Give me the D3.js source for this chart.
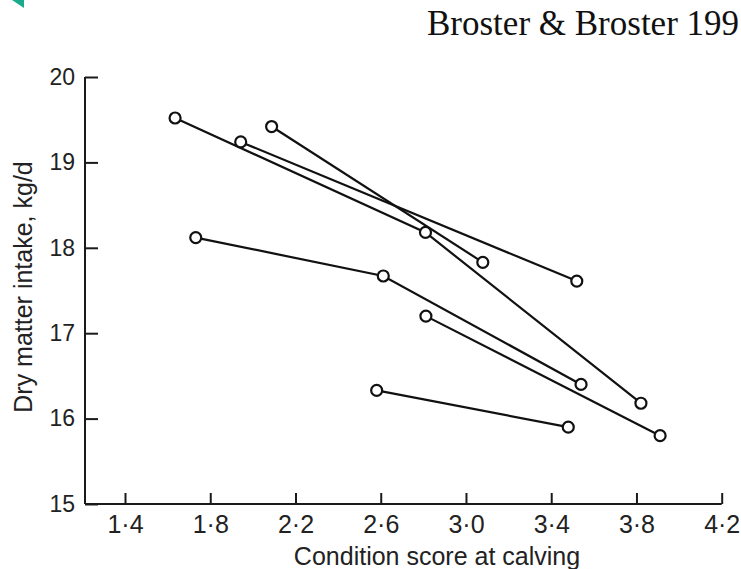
<!DOCTYPE html>
<html>
<head>
<meta charset="utf-8">
<script src="https://cdn.jsdelivr.net/npm/d3@7"></script>
<style>
  body { margin: 0; background: #fff; }
  svg { display: block; }
  .tick text { font-family: "Liberation Sans", Arial, sans-serif; fill: #222; }
</style>
</head>
<body>
<div id="chart"></div>
<script>
// one line per experiment: condition score at calving vs dry matter intake
var seriesNames = ["A", "B", "C", "D", "E", "F"];
var scoreA = [1.635, 2.81, 3.821], intakeA = [19.52, 18.18, 16.18];
var scoreB = [2.088, 3.079],       intakeB = [19.42, 17.83];
var scoreC = [1.943, 3.52],        intakeC = [19.24, 17.61];
var scoreD = [1.732, 2.612, 3.54], intakeD = [18.12, 17.67, 16.40];
var scoreE = [2.812, 3.911],       intakeE = [17.20, 15.80];
var scoreF = [2.581, 3.48],        intakeF = [16.33, 15.90];

var xTicks = [1.4, 1.8, 2.2, 2.6, 3.0, 3.4, 3.8, 4.2];
var yTicks = [15, 16, 17, 18, 19, 20];

var scores = [scoreA, scoreB, scoreC, scoreD, scoreE, scoreF];
var intakes = [intakeA, intakeB, intakeC, intakeD, intakeE, intakeF];

var width = 741, height = 569;

var svg = d3.select("#chart").append("svg")
  .attr("width", width)
  .attr("height", height);

// small green corner mark
svg.append("path")
  .attr("d", "M12,0 L24,0 L24,8 Z")
  .attr("fill", "#1aaa8c");

svg.append("text")
  .attr("x", 427)
  .attr("y", 35)
  .style("font-family", "'Liberation Serif', 'Times New Roman', serif")
  .style("font-size", "35px")
  .attr("fill", "#111")
  .text("Broster & Broster 199");

var x = d3.scaleLinear().domain([1.4, 4.2]).range([125, 721.7]);
var y = d3.scaleLinear().domain([15, 20]).range([504, 77]);
var xLeft = x.invert(85);

// x axis, ticks pointing up
var xAxis = d3.axisTop(x)
  .tickValues(xTicks)
  .tickSize(11)
  .tickSizeOuter(0)
  .tickFormat(function(d) { return d3.format(".1f")(d).replace(".", "\u00b7"); });

var gx = svg.append("g")
  .attr("transform", "translate(0," + y(15) + ")")
  .call(xAxis);
gx.select(".domain").remove();
gx.append("line")
  .attr("x1", x(xLeft)).attr("x2", x(4.2))
  .attr("stroke", "#1a1a1a").attr("stroke-width", 2);
gx.selectAll(".tick line").attr("stroke", "#1a1a1a").attr("stroke-width", 2);
gx.selectAll(".tick text")
  .attr("y", 29)
  .style("font-size", "25px");

// y axis, ticks pointing right
var yAxis = d3.axisRight(y)
  .tickValues(yTicks)
  .tickSize(13)
  .tickSizeOuter(0)
  .tickFormat(d3.format("d"));

var gy = svg.append("g")
  .attr("transform", "translate(" + x(xLeft) + ",0)")
  .call(yAxis);
gy.select(".domain").remove();
gy.append("line")
  .attr("y1", y(15)).attr("y2", y(20))
  .attr("stroke", "#1a1a1a").attr("stroke-width", 2);
gy.selectAll(".tick line").attr("stroke", "#1a1a1a").attr("stroke-width", 2);
gy.selectAll(".tick text")
  .attr("x", -10)
  .attr("text-anchor", "end")
  .style("font-size", "23px");

svg.append("text")
  .attr("x", 437)
  .attr("y", 565)
  .attr("text-anchor", "middle")
  .style("font-family", "'Liberation Sans', Arial, sans-serif")
  .style("font-size", "25px")
  .attr("fill", "#222")
  .text("Condition score at calving");

svg.append("text")
  .attr("transform", "translate(32,287) rotate(-90)")
  .attr("text-anchor", "middle")
  .style("font-family", "'Liberation Sans', Arial, sans-serif")
  .style("font-size", "25px")
  .attr("fill", "#222")
  .text("Dry matter intake, kg/d");

// build point lists
var series = seriesNames.map(function(name, i) {
  return scores[i].map(function(s, j) { return {score: s, intake: intakes[i][j]}; });
});

var line = d3.line()
  .x(function(d) { return x(d.score); })
  .y(function(d) { return y(d.intake); });

svg.selectAll("path.series")
  .data(series)
  .enter().append("path")
  .attr("class", "series")
  .attr("d", line)
  .attr("fill", "none")
  .attr("stroke", "#111")
  .attr("stroke-width", 2.2);

var allPoints = [].concat.apply([], series);

svg.selectAll("circle.pt")
  .data(allPoints)
  .enter().append("circle")
  .attr("class", "pt")
  .attr("cx", function(d) { return x(d.score); })
  .attr("cy", function(d) { return y(d.intake); })
  .attr("r", 5.5)
  .attr("fill", "#fff")
  .attr("stroke", "#111")
  .attr("stroke-width", 2.2);
</script>
</body>
</html>
